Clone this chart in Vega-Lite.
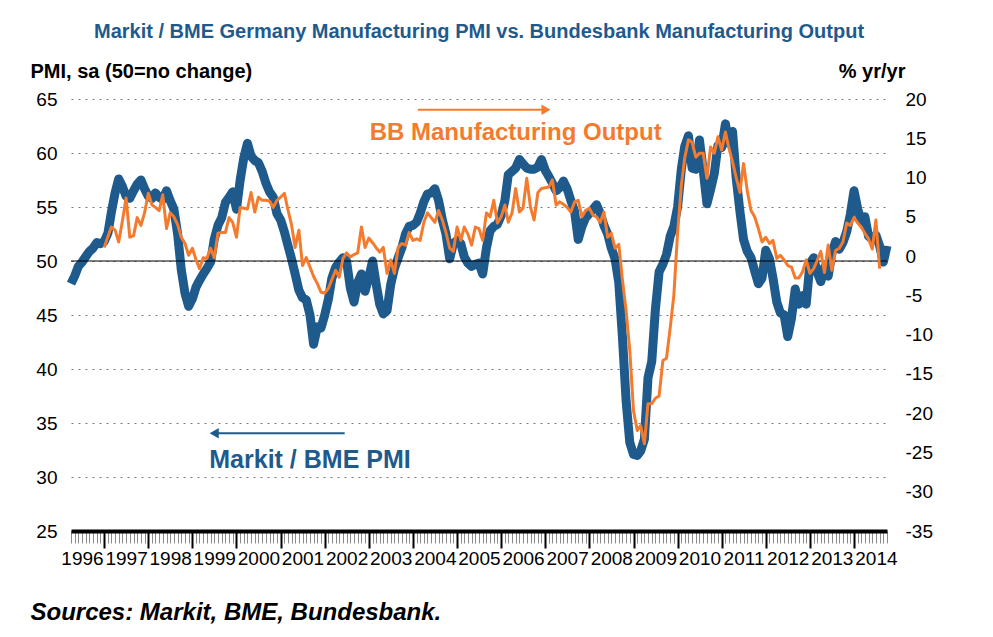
{
  "$schema": "https://vega.github.io/schema/vega-lite/v6.json",
  "autosize": {"type": "none"},
  "width": 816,
  "height": 432,
  "padding": {"left": 71, "top": 99, "right": 106, "bottom": 106},
  "background": "white",
  "config": {"font": "Liberation Sans", "view": {"stroke": null}},
  "title": {
    "text": "Markit / BME Germany Manufacturing PMI vs. Bundesbank Manufacturing Output",
    "fontSize": 20, "fontWeight": "bold", "color": "#1F5A8D", "anchor": "middle", "offset": 19
  },
  "datasets": {
    "pmi": [
      {"d":"1996-04-01","v":47.9},{"d":"1996-05-01","v":48.6},{"d":"1996-06-01","v":49.5},{"d":"1996-07-01","v":49.9},{"d":"1996-08-01","v":50.4},{"d":"1996-09-01","v":50.9},{"d":"1996-10-01","v":51.2},{"d":"1996-11-01","v":51.7},{"d":"1996-12-01","v":51.6},
      {"d":"1997-01-01","v":51.8},{"d":"1997-02-01","v":52.6},{"d":"1997-03-01","v":54.5},{"d":"1997-04-01","v":56.3},{"d":"1997-05-01","v":57.6},{"d":"1997-06-01","v":56.9},{"d":"1997-07-01","v":56.0},{"d":"1997-08-01","v":55.8},{"d":"1997-09-01","v":56.5},{"d":"1997-10-01","v":57.1},{"d":"1997-11-01","v":57.5},{"d":"1997-12-01","v":56.7},
      {"d":"1998-01-01","v":56.0},{"d":"1998-02-01","v":55.8},{"d":"1998-03-01","v":56.3},{"d":"1998-04-01","v":55.9},{"d":"1998-05-01","v":55.7},{"d":"1998-06-01","v":56.5},{"d":"1998-07-01","v":55.6},{"d":"1998-08-01","v":54.8},{"d":"1998-09-01","v":52.5},{"d":"1998-10-01","v":49.2},{"d":"1998-11-01","v":47.0},{"d":"1998-12-01","v":45.8},
      {"d":"1999-01-01","v":46.5},{"d":"1999-02-01","v":47.6},{"d":"1999-03-01","v":48.2},{"d":"1999-04-01","v":48.8},{"d":"1999-05-01","v":49.3},{"d":"1999-06-01","v":49.9},{"d":"1999-07-01","v":52.0},{"d":"1999-08-01","v":53.3},{"d":"1999-09-01","v":54.0},{"d":"1999-10-01","v":55.4},{"d":"1999-11-01","v":55.9},{"d":"1999-12-01","v":56.4},
      {"d":"2000-01-01","v":54.8},{"d":"2000-02-01","v":57.5},{"d":"2000-03-01","v":59.5},{"d":"2000-04-01","v":60.9},{"d":"2000-05-01","v":59.7},{"d":"2000-06-01","v":59.3},{"d":"2000-07-01","v":59.1},{"d":"2000-08-01","v":58.3},{"d":"2000-09-01","v":57.2},{"d":"2000-10-01","v":56.4},{"d":"2000-11-01","v":55.9},{"d":"2000-12-01","v":54.4},
      {"d":"2001-01-01","v":53.8},{"d":"2001-02-01","v":52.7},{"d":"2001-03-01","v":51.5},{"d":"2001-04-01","v":50.2},{"d":"2001-05-01","v":48.8},{"d":"2001-06-01","v":47.3},{"d":"2001-07-01","v":46.6},{"d":"2001-08-01","v":46.4},{"d":"2001-09-01","v":45.0},{"d":"2001-10-01","v":42.3},{"d":"2001-11-01","v":43.9},{"d":"2001-12-01","v":43.8},
      {"d":"2002-01-01","v":45.0},{"d":"2002-02-01","v":46.5},{"d":"2002-03-01","v":48.4},{"d":"2002-04-01","v":49.4},{"d":"2002-05-01","v":49.9},{"d":"2002-06-01","v":50.3},{"d":"2002-07-01","v":50.0},{"d":"2002-08-01","v":47.5},{"d":"2002-09-01","v":46.2},{"d":"2002-10-01","v":48.0},{"d":"2002-11-01","v":48.8},{"d":"2002-12-01","v":47.2},
      {"d":"2003-01-01","v":48.5},{"d":"2003-02-01","v":50.0},{"d":"2003-03-01","v":48.0},{"d":"2003-04-01","v":46.0},{"d":"2003-05-01","v":45.1},{"d":"2003-06-01","v":45.4},{"d":"2003-07-01","v":47.8},{"d":"2003-08-01","v":49.3},{"d":"2003-09-01","v":50.3},{"d":"2003-10-01","v":51.2},{"d":"2003-11-01","v":52.5},{"d":"2003-12-01","v":53.2},
      {"d":"2004-01-01","v":53.3},{"d":"2004-02-01","v":53.6},{"d":"2004-03-01","v":54.4},{"d":"2004-04-01","v":55.5},{"d":"2004-05-01","v":56.2},{"d":"2004-06-01","v":56.3},{"d":"2004-07-01","v":56.7},{"d":"2004-08-01","v":55.6},{"d":"2004-09-01","v":53.8},{"d":"2004-10-01","v":52.5},{"d":"2004-11-01","v":50.2},{"d":"2004-12-01","v":51.6},
      {"d":"2005-01-01","v":51.9},{"d":"2005-02-01","v":51.6},{"d":"2005-03-01","v":50.4},{"d":"2005-04-01","v":49.8},{"d":"2005-05-01","v":49.5},{"d":"2005-06-01","v":49.7},{"d":"2005-07-01","v":49.8},{"d":"2005-08-01","v":48.8},{"d":"2005-09-01","v":51.2},{"d":"2005-10-01","v":52.8},{"d":"2005-11-01","v":53.2},{"d":"2005-12-01","v":53.4},
      {"d":"2006-01-01","v":54.2},{"d":"2006-02-01","v":55.6},{"d":"2006-03-01","v":58.0},{"d":"2006-04-01","v":58.3},{"d":"2006-05-01","v":58.6},{"d":"2006-06-01","v":59.4},{"d":"2006-07-01","v":59.0},{"d":"2006-08-01","v":58.6},{"d":"2006-09-01","v":58.5},{"d":"2006-10-01","v":58.5},{"d":"2006-11-01","v":58.7},{"d":"2006-12-01","v":59.4},
      {"d":"2007-01-01","v":58.4},{"d":"2007-02-01","v":57.8},{"d":"2007-03-01","v":57.2},{"d":"2007-04-01","v":56.5},{"d":"2007-05-01","v":56.8},{"d":"2007-06-01","v":57.4},{"d":"2007-07-01","v":56.7},{"d":"2007-08-01","v":55.6},{"d":"2007-09-01","v":54.6},{"d":"2007-10-01","v":52.0},{"d":"2007-11-01","v":53.2},{"d":"2007-12-01","v":54.0},
      {"d":"2008-01-01","v":54.4},{"d":"2008-02-01","v":54.8},{"d":"2008-03-01","v":55.2},{"d":"2008-04-01","v":54.4},{"d":"2008-05-01","v":53.3},{"d":"2008-06-01","v":52.5},{"d":"2008-07-01","v":51.2},{"d":"2008-08-01","v":50.2},{"d":"2008-09-01","v":48.0},{"d":"2008-10-01","v":43.0},{"d":"2008-11-01","v":37.0},{"d":"2008-12-01","v":33.2},
      {"d":"2009-01-01","v":32.1},{"d":"2009-02-01","v":32.0},{"d":"2009-03-01","v":32.4},{"d":"2009-04-01","v":33.5},{"d":"2009-05-01","v":39.2},{"d":"2009-06-01","v":40.7},{"d":"2009-07-01","v":45.5},{"d":"2009-08-01","v":49.0},{"d":"2009-09-01","v":49.7},{"d":"2009-10-01","v":50.6},{"d":"2009-11-01","v":52.3},{"d":"2009-12-01","v":53.2},
      {"d":"2010-01-01","v":55.0},{"d":"2010-02-01","v":58.5},{"d":"2010-03-01","v":60.6},{"d":"2010-04-01","v":61.6},{"d":"2010-05-01","v":58.6},{"d":"2010-06-01","v":58.5},{"d":"2010-07-01","v":61.2},{"d":"2010-08-01","v":58.4},{"d":"2010-09-01","v":55.3},{"d":"2010-10-01","v":56.6},{"d":"2010-11-01","v":58.1},{"d":"2010-12-01","v":60.7},
      {"d":"2011-01-01","v":60.5},{"d":"2011-02-01","v":62.7},{"d":"2011-03-01","v":60.9},{"d":"2011-04-01","v":62.0},{"d":"2011-05-01","v":57.7},{"d":"2011-06-01","v":54.6},{"d":"2011-07-01","v":52.0},{"d":"2011-08-01","v":50.9},{"d":"2011-09-01","v":50.3},{"d":"2011-10-01","v":49.1},{"d":"2011-11-01","v":47.9},{"d":"2011-12-01","v":48.4},
      {"d":"2012-01-01","v":51.0},{"d":"2012-02-01","v":50.2},{"d":"2012-03-01","v":48.4},{"d":"2012-04-01","v":46.2},{"d":"2012-05-01","v":45.2},{"d":"2012-06-01","v":45.0},{"d":"2012-07-01","v":43.0},{"d":"2012-08-01","v":44.7},{"d":"2012-09-01","v":47.4},{"d":"2012-10-01","v":46.0},{"d":"2012-11-01","v":46.8},{"d":"2012-12-01","v":46.0},
      {"d":"2013-01-01","v":49.8},{"d":"2013-02-01","v":50.3},{"d":"2013-03-01","v":49.0},{"d":"2013-04-01","v":48.1},{"d":"2013-05-01","v":49.4},{"d":"2013-06-01","v":48.6},{"d":"2013-07-01","v":50.7},{"d":"2013-08-01","v":51.8},{"d":"2013-09-01","v":51.1},{"d":"2013-10-01","v":51.7},{"d":"2013-11-01","v":52.7},{"d":"2013-12-01","v":54.3},
      {"d":"2014-01-01","v":56.5},{"d":"2014-02-01","v":54.8},{"d":"2014-03-01","v":53.7},{"d":"2014-04-01","v":54.1},{"d":"2014-05-01","v":52.3},{"d":"2014-06-01","v":52.0},{"d":"2014-07-01","v":52.4},{"d":"2014-08-01","v":51.4},{"d":"2014-09-01","v":49.9},{"d":"2014-10-01","v":51.4}
    ],
    "out": [
      {"d":"1997-01-01","v":1.1},{"d":"1997-02-01","v":2.5},{"d":"1997-03-01","v":3.7},{"d":"1997-04-01","v":3.3},{"d":"1997-05-01","v":1.8},{"d":"1997-06-01","v":4.5},{"d":"1997-07-01","v":7.4},{"d":"1997-08-01","v":2.4},{"d":"1997-09-01","v":2.6},{"d":"1997-10-01","v":4.9},{"d":"1997-11-01","v":3.9},{"d":"1997-12-01","v":5.5},
      {"d":"1998-01-01","v":8.0},{"d":"1998-02-01","v":6.5},{"d":"1998-03-01","v":6.2},{"d":"1998-04-01","v":5.8},{"d":"1998-05-01","v":7.8},{"d":"1998-06-01","v":3.5},{"d":"1998-07-01","v":5.5},{"d":"1998-08-01","v":5.0},{"d":"1998-09-01","v":4.0},{"d":"1998-10-01","v":2.4},{"d":"1998-11-01","v":1.6},{"d":"1998-12-01","v":0.1},
      {"d":"1999-01-01","v":1.0},{"d":"1999-02-01","v":-0.5},{"d":"1999-03-01","v":-1.6},{"d":"1999-04-01","v":-0.2},{"d":"1999-05-01","v":-0.3},{"d":"1999-06-01","v":1.0},{"d":"1999-07-01","v":-0.2},{"d":"1999-08-01","v":2.9},{"d":"1999-09-01","v":3.0},{"d":"1999-10-01","v":3.0},{"d":"1999-11-01","v":4.9},{"d":"1999-12-01","v":4.3},
      {"d":"2000-01-01","v":2.4},{"d":"2000-02-01","v":6.2},{"d":"2000-03-01","v":6.1},{"d":"2000-04-01","v":6.0},{"d":"2000-05-01","v":8.1},{"d":"2000-06-01","v":5.6},{"d":"2000-07-01","v":7.5},{"d":"2000-08-01","v":7.1},{"d":"2000-09-01","v":7.1},{"d":"2000-10-01","v":7.0},{"d":"2000-11-01","v":6.2},{"d":"2000-12-01","v":7.1},
      {"d":"2001-01-01","v":7.5},{"d":"2001-02-01","v":8.0},{"d":"2001-03-01","v":6.0},{"d":"2001-04-01","v":4.0},{"d":"2001-05-01","v":1.1},{"d":"2001-06-01","v":3.3},{"d":"2001-07-01","v":-1.2},{"d":"2001-08-01","v":-0.2},{"d":"2001-09-01","v":-1.4},{"d":"2001-10-01","v":-2.6},{"d":"2001-11-01","v":-3.5},{"d":"2001-12-01","v":-4.6},
      {"d":"2002-01-01","v":-4.7},{"d":"2002-02-01","v":-4.1},{"d":"2002-03-01","v":-3.0},{"d":"2002-04-01","v":-1.8},{"d":"2002-05-01","v":-2.7},{"d":"2002-06-01","v":-0.3},{"d":"2002-07-01","v":0.4},{"d":"2002-08-01","v":-0.1},{"d":"2002-09-01","v":0.2},{"d":"2002-10-01","v":0.4},{"d":"2002-11-01","v":3.7},{"d":"2002-12-01","v":1.1},
      {"d":"2003-01-01","v":2.3},{"d":"2003-02-01","v":1.7},{"d":"2003-03-01","v":1.1},{"d":"2003-04-01","v":0.5},{"d":"2003-05-01","v":1.1},{"d":"2003-06-01","v":-2.2},{"d":"2003-07-01","v":-0.5},{"d":"2003-08-01","v":-2.2},{"d":"2003-09-01","v":1.1},{"d":"2003-10-01","v":1.6},{"d":"2003-11-01","v":1.4},{"d":"2003-12-01","v":3.0},
      {"d":"2004-01-01","v":2.0},{"d":"2004-02-01","v":2.2},{"d":"2004-03-01","v":2.0},{"d":"2004-04-01","v":4.3},{"d":"2004-05-01","v":5.5},{"d":"2004-06-01","v":4.9},{"d":"2004-07-01","v":4.3},{"d":"2004-08-01","v":5.8},{"d":"2004-09-01","v":4.6},{"d":"2004-10-01","v":3.0},{"d":"2004-11-01","v":1.0},{"d":"2004-12-01","v":0.6},
      {"d":"2005-01-01","v":3.7},{"d":"2005-02-01","v":2.0},{"d":"2005-03-01","v":3.7},{"d":"2005-04-01","v":2.8},{"d":"2005-05-01","v":1.4},{"d":"2005-06-01","v":3.7},{"d":"2005-07-01","v":3.5},{"d":"2005-08-01","v":2.0},{"d":"2005-09-01","v":5.5},{"d":"2005-10-01","v":5.0},{"d":"2005-11-01","v":7.1},{"d":"2005-12-01","v":4.2},
      {"d":"2006-01-01","v":5.0},{"d":"2006-02-01","v":6.5},{"d":"2006-03-01","v":4.3},{"d":"2006-04-01","v":5.5},{"d":"2006-05-01","v":8.6},{"d":"2006-06-01","v":5.6},{"d":"2006-07-01","v":6.1},{"d":"2006-08-01","v":9.9},{"d":"2006-09-01","v":6.2},{"d":"2006-10-01","v":4.6},{"d":"2006-11-01","v":8.1},{"d":"2006-12-01","v":8.6},
      {"d":"2007-01-01","v":8.7},{"d":"2007-02-01","v":8.8},{"d":"2007-03-01","v":9.7},{"d":"2007-04-01","v":6.5},{"d":"2007-05-01","v":6.9},{"d":"2007-06-01","v":6.6},{"d":"2007-07-01","v":6.2},{"d":"2007-08-01","v":5.6},{"d":"2007-09-01","v":6.9},{"d":"2007-10-01","v":7.1},{"d":"2007-11-01","v":5.0},{"d":"2007-12-01","v":5.8},
      {"d":"2008-01-01","v":6.1},{"d":"2008-02-01","v":5.2},{"d":"2008-03-01","v":5.0},{"d":"2008-04-01","v":4.3},{"d":"2008-05-01","v":5.6},{"d":"2008-06-01","v":2.4},{"d":"2008-07-01","v":2.9},{"d":"2008-08-01","v":1.0},{"d":"2008-09-01","v":1.5},{"d":"2008-10-01","v":-3.0},{"d":"2008-11-01","v":-7.0},{"d":"2008-12-01","v":-12.0},
      {"d":"2009-01-01","v":-19.7},{"d":"2009-02-01","v":-22.2},{"d":"2009-03-01","v":-21.6},{"d":"2009-04-01","v":-23.9},{"d":"2009-05-01","v":-18.8},{"d":"2009-06-01","v":-18.8},{"d":"2009-07-01","v":-18.1},{"d":"2009-08-01","v":-17.8},{"d":"2009-09-01","v":-13.3},{"d":"2009-10-01","v":-13.0},{"d":"2009-11-01","v":-9.1},{"d":"2009-12-01","v":-5.0},
      {"d":"2010-01-01","v":3.0},{"d":"2010-02-01","v":9.0},{"d":"2010-03-01","v":12.5},{"d":"2010-04-01","v":14.8},{"d":"2010-05-01","v":14.5},{"d":"2010-06-01","v":12.6},{"d":"2010-07-01","v":13.1},{"d":"2010-08-01","v":13.1},{"d":"2010-09-01","v":9.9},{"d":"2010-10-01","v":13.9},{"d":"2010-11-01","v":13.1},{"d":"2010-12-01","v":15.2},
      {"d":"2011-01-01","v":13.5},{"d":"2011-02-01","v":15.8},{"d":"2011-03-01","v":13.8},{"d":"2011-04-01","v":12.0},{"d":"2011-05-01","v":10.0},{"d":"2011-06-01","v":8.1},{"d":"2011-07-01","v":11.8},{"d":"2011-08-01","v":8.3},{"d":"2011-09-01","v":5.8},{"d":"2011-10-01","v":5.0},{"d":"2011-11-01","v":3.5},{"d":"2011-12-01","v":1.8},
      {"d":"2012-01-01","v":2.4},{"d":"2012-02-01","v":1.6},{"d":"2012-03-01","v":2.0},{"d":"2012-04-01","v":-0.3},{"d":"2012-05-01","v":0.1},{"d":"2012-06-01","v":-0.5},{"d":"2012-07-01","v":-1.2},{"d":"2012-08-01","v":-1.4},{"d":"2012-09-01","v":-2.8},{"d":"2012-10-01","v":-2.8},{"d":"2012-11-01","v":-2.0},{"d":"2012-12-01","v":-0.5},
      {"d":"2013-01-01","v":-2.2},{"d":"2013-02-01","v":-1.6},{"d":"2013-03-01","v":-0.6},{"d":"2013-04-01","v":0.6},{"d":"2013-05-01","v":-2.1},{"d":"2013-06-01","v":1.4},{"d":"2013-07-01","v":-1.8},{"d":"2013-08-01","v":0.7},{"d":"2013-09-01","v":1.0},{"d":"2013-10-01","v":1.8},{"d":"2013-11-01","v":4.2},{"d":"2013-12-01","v":3.9},
      {"d":"2014-01-01","v":4.9},{"d":"2014-02-01","v":4.2},{"d":"2014-03-01","v":3.7},{"d":"2014-04-01","v":2.9},{"d":"2014-05-01","v":2.2},{"d":"2014-06-01","v":0.9},{"d":"2014-07-01","v":4.6},{"d":"2014-08-01","v":-1.6}
    ]
  },
  "layer": [
    {
      "layer": [
        {
          "data": {"name": "pmi"},
          "mark": {"type": "line", "color": "#1F5A8D", "strokeWidth": 9, "strokeJoin": "round"},
          "encoding": {
            "x": {
              "field": "d", "type": "temporal",
              "scale": {"type": "utc", "domain": ["1996-04-01", "2014-10-01"]},
              "axis": {
                "tickCount": {"interval": "month", "step": 1},
                "labelExpr": "utcmonth(datum.value) == 6 ? utcFormat(datum.value, '%Y') : ''",
                "labelOverlap": false, "labelFlush": false, "labelBound": false,
                "labelFontSize": 19, "labelColor": "black", "labelPadding": 6,
                "tickSize": {"condition": {"test": "utcmonth(datum.value) == 0", "value": 17}, "value": 12},
                "tickColor": {"condition": {"test": "utcmonth(datum.value) == 0", "value": "#000000"}, "value": "#8a8a8a"},
                "tickWidth": {"condition": {"test": "utcmonth(datum.value) == 0", "value": 2}, "value": 1},
                "domainColor": "black", "domainWidth": 4,
                "grid": false,
                "title": "Sources: Markit, BME, Bundesbank.",
                "titleFontSize": 24, "titleFontStyle": "italic", "titleFontWeight": "bold", "titleColor": "black",
                "titleAlign": "left", "titleBaseline": "alphabetic", "titleX": -41, "titleY": 88
              }
            },
            "y": {
              "field": "v", "type": "quantitative",
              "scale": {"domain": [25, 65], "nice": false, "zero": false},
              "axis": {
                "values": [25, 30, 35, 40, 45, 50, 55, 60, 65],
                "ticks": false, "domain": false,
                "grid": true, "gridDash": [2, 5], "gridColor": "#7a7a7a", "gridWidth": 1,
                "labelFontSize": 19, "labelPadding": 14, "labelColor": "black",
                "title": "PMI, sa (50=no change)",
                "titleAngle": 0, "titleAlign": "left", "titleBaseline": "alphabetic",
                "titleX": -41, "titleY": -22, "titleFontSize": 20, "titleFontWeight": "bold", "titleColor": "black"
              }
            }
          }
        },
        {
          "data": {"values": [{"v": 50}]},
          "mark": {"type": "rule", "color": "black", "strokeWidth": 1},
          "encoding": {"y": {"field": "v", "type": "quantitative"}}
        },
        {
          "data": {"values": [{"d": "2006-05-01", "v": 61.85, "label": "BB Manufacturing Output"}]},
          "mark": {"type": "text", "fontSize": 24, "fontWeight": "bold", "color": "#F47B2E", "align": "center", "baseline": "middle"},
          "encoding": {"x": {"field": "d", "type": "temporal"}, "y": {"field": "v", "type": "quantitative"}, "text": {"field": "label"}}
        },
        {
          "data": {"values": [{"d": "2001-09-01", "v": 31.6, "label": "Markit / BME PMI"}]},
          "mark": {"type": "text", "fontSize": 25, "fontWeight": "bold", "color": "#1F5A8D", "align": "center", "baseline": "middle"},
          "encoding": {"x": {"field": "d", "type": "temporal"}, "y": {"field": "v", "type": "quantitative"}, "text": {"field": "label"}}
        },
        {
          "data": {"values": [{"d": "2004-02-12", "d2": "2007-01-07", "v": 64.0}]},
          "mark": {"type": "rule", "color": "#F47B2E", "strokeWidth": 2},
          "encoding": {"x": {"field": "d", "type": "temporal"}, "x2": {"field": "d2"}, "y": {"field": "v", "type": "quantitative"}}
        },
        {
          "data": {"values": [{"d": "2007-01-07", "v": 64.0}]},
          "mark": {"type": "point", "shape": "triangle-right", "filled": true, "size": 110, "color": "#F47B2E", "opacity": 1},
          "encoding": {"x": {"field": "d", "type": "temporal"}, "y": {"field": "v", "type": "quantitative"}}
        },
        {
          "data": {"values": [{"d": "1999-07-01", "d2": "2002-06-15", "v": 34.05}]},
          "mark": {"type": "rule", "color": "#1F5A8D", "strokeWidth": 2},
          "encoding": {"x": {"field": "d", "type": "temporal"}, "x2": {"field": "d2"}, "y": {"field": "v", "type": "quantitative"}}
        },
        {
          "data": {"values": [{"d": "1999-07-01", "v": 34.05}]},
          "mark": {"type": "point", "shape": "triangle-left", "filled": true, "size": 110, "color": "#1F5A8D", "opacity": 1},
          "encoding": {"x": {"field": "d", "type": "temporal"}, "y": {"field": "v", "type": "quantitative"}}
        }
      ]
    },
    {
      "data": {"name": "out"},
      "mark": {"type": "line", "color": "#F47B2E", "strokeWidth": 3, "strokeJoin": "round"},
      "encoding": {
        "x": {"field": "d", "type": "temporal"},
        "y": {
          "field": "v", "type": "quantitative",
          "scale": {"domain": [-35, 20], "nice": false, "zero": false},
          "axis": {
            "orient": "right",
            "values": [-35, -30, -25, -20, -15, -10, -5, 0, 5, 10, 15, 20],
            "labelExpr": "replace(datum.label, '\u2212', '-')",
            "ticks": false, "domain": false, "grid": false,
            "labelFontSize": 19, "labelPadding": 18, "labelColor": "black",
            "title": "% yr/yr",
            "titleAngle": 0, "titleAlign": "right", "titleBaseline": "alphabetic",
            "titleX": 18, "titleY": -22, "titleFontSize": 20, "titleFontWeight": "bold", "titleColor": "black"
          }
        }
      }
    }
  ],
  "resolve": {"scale": {"y": "independent"}}
}
